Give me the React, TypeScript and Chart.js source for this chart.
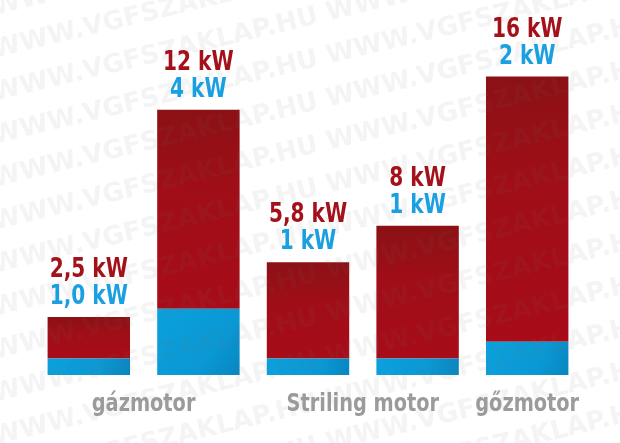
import { useEffect, useRef } from 'react';
import { Chart, registerables } from 'chart.js';

Chart.register(...registerables);

// one entry per bar, neighbouring bars with the same name share a caption
const barGroups = ['gázmotor', 'gázmotor', 'Striling motor', 'Striling motor', 'gőzmotor'];
// red part (hő) and blue part (villamos), kW
const thermalKw = [2.5, 12, 5.8, 8, 16];
const electricKw = [1.0, 4, 1, 1, 2];
const thermalLabels = ['2,5 kW', '12 kW', '5,8 kW', '8 kW', '16 kW'];
const electricLabels = ['1,0 kW', '4 kW', '1 kW', '1 kW', '2 kW'];
const watermarkText = 'WWW.VGFSZAKLAP.HU';

const RED = '#a3121b';
const BLUE = '#1a9fe0';
const GREY = '#9b9b9b';
const FAMILY = "'DejaVu Sans Condensed', 'DejaVu Sans', sans-serif";
const BAR_PCT = 0.752;
const SQUEEZE = 0.86; // narrow the condensed font a bit more

const redFill = (c: any) => {
  const chart = c.chart;
  if (!chart.chartArea || c.type !== 'data') return '#a30d18';
  const y = chart.scales.y;
  const i = c.dataIndex;
  const top = y.getPixelForValue(electricKw[i] + thermalKw[i]);
  const bottom = y.getPixelForValue(electricKw[i]);
  const g = chart.ctx.createLinearGradient(0, top, 0, bottom);
  g.addColorStop(0, '#8b1115');
  g.addColorStop(0.4, '#a00e17');
  g.addColorStop(1, '#a70c18');
  return g;
};

const blueFill = (c: any) => {
  const chart = c.chart;
  if (!chart.chartArea || c.type !== 'data') return '#0a9ad6';
  const x = chart.scales.x;
  const y = chart.scales.y;
  const i = c.dataIndex;
  const half = ((x.getPixelForValue(1) - x.getPixelForValue(0)) * BAR_PCT) / 2;
  const cx = x.getPixelForValue(i);
  const g = chart.ctx.createLinearGradient(
    cx - half, y.getPixelForValue(electricKw[i]),
    cx + half, y.getPixelForValue(0)
  );
  g.addColorStop(0, '#0ba1dd');
  g.addColorStop(0.65, '#0a98d4');
  g.addColorStop(1, '#0886c0');
  return g;
};

const squeezedText = (ctx: CanvasRenderingContext2D, text: string, x: number, y: number) => {
  ctx.save();
  ctx.translate(x, y);
  ctx.scale(SQUEEZE, 1);
  ctx.fillText(text, 0, 0);
  ctx.restore();
};

const watermark = {
  id: 'watermark',
  afterDatasetsDraw(chart: any) {
    const { ctx } = chart;
    ctx.save();
    ctx.font = "bold 26px 'DejaVu Sans', sans-serif";
    ctx.fillStyle = 'rgba(120, 120, 120, 0.08)';
    ctx.textBaseline = 'alphabetic';
    ctx.textAlign = 'left';
    const line = Array(6).fill(watermarkText).join(' ');
    for (let k = -4; k < 18; k++) {
      ctx.save();
      ctx.translate(-6, 58 + k * 43);
      ctx.rotate((-13.5 * Math.PI) / 180);
      ctx.fillText(line, 0, 0);
      ctx.restore();
    }
    ctx.restore();
  },
};

const captions = {
  id: 'captions',
  afterDraw(chart: any) {
    const { ctx, chartArea } = chart;
    const x = chart.scales.x;
    const bars = chart.getDatasetMeta(1).data;
    ctx.save();
    ctx.font = `bold 26px ${FAMILY}`;
    ctx.textAlign = 'center';
    ctx.textBaseline = 'alphabetic';

    bars.forEach((bar: any, i: number) => {
      ctx.fillStyle = BLUE;
      squeezedText(ctx, electricLabels[i], bar.x, bar.y - 13);
      ctx.fillStyle = RED;
      squeezedText(ctx, thermalLabels[i], bar.x, bar.y - 40);
    });

    // group captions under the bars
    ctx.font = `bold 25px ${FAMILY}`;
    ctx.fillStyle = GREY;
    let start = 0;
    for (let i = 1; i <= barGroups.length; i++) {
      if (i === barGroups.length || barGroups[i] !== barGroups[start]) {
        const cx = (x.getPixelForValue(start) + x.getPixelForValue(i - 1)) / 2;
        squeezedText(ctx, barGroups[start], cx, chartArea.bottom + 36);
        start = i;
      }
    }
    ctx.restore();
  },
};

const App = () => {
  const canvasRef = useRef<HTMLCanvasElement>(null);
  const chartRef = useRef<Chart | null>(null);

  useEffect(() => {
    if (!canvasRef.current) return;
    chartRef.current = new Chart(canvasRef.current, {
      type: 'bar',
      data: {
        labels: barGroups,
        datasets: [
          {
            label: 'villamos teljesítmény',
            data: electricKw,
            backgroundColor: blueFill,
            barPercentage: BAR_PCT,
            categoryPercentage: 1,
          },
          {
            label: 'hőteljesítmény',
            data: thermalKw,
            backgroundColor: redFill,
            barPercentage: BAR_PCT,
            categoryPercentage: 1,
          },
        ],
      },
      options: {
        animation: false,
        responsive: true,
        maintainAspectRatio: false,
        layout: { padding: { left: 34, right: 38, top: 2, bottom: 68 } },
        plugins: {
          legend: { display: false },
          tooltip: { enabled: false },
        },
        scales: {
          x: { display: false, stacked: true },
          y: { display: false, stacked: true, min: 0, max: 22.5 },
        },
      },
      plugins: [watermark, captions],
    });

    return () => {
      chartRef.current?.destroy();
      chartRef.current = null;
    };
  }, []);

  return (
    <div style={{ position: 'fixed', left: 0, top: 0, width: 620, height: 443, background: '#fff' }}>
      <canvas ref={canvasRef}></canvas>
    </div>
  );
};

export default App;
